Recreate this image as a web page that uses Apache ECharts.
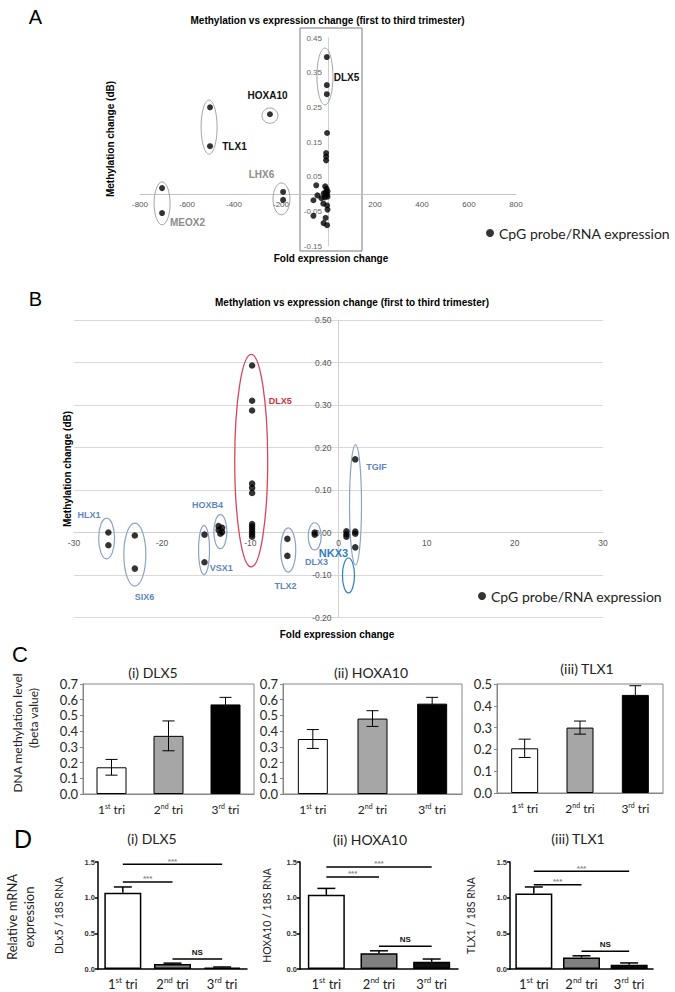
<!DOCTYPE html>
<html><head><meta charset="utf-8">
<script src="https://cdn.jsdelivr.net/npm/echarts@6/dist/echarts.min.js"></script>
<style>html,body{margin:0;padding:0;background:#fff}#c{width:675px;height:992px}</style>
</head><body><div id="c"></div>
<script>
// ---------- Panel A data (fold expression change, methylation change) ----------
const aMEOX2 = [[-706,0.017],[-706,-0.055]];
const aTLX1 = [[-502,0.25],[-502,0.138]];
const aHOXA10 = [[-247,0.23]];
const aLHX6 = [[-191,0.006],[-191,-0.017]];
const aDLX5 = [[-5,0.395],[-5,0.314],[-5,0.288]];
const aOther = [[-4,0.176],[-8,0.118],[-8,0.108],[-8,0.097],
  [-50,0.025],[-12,0.022],[-6,0.015],[-2,0.008],[-10,0.004],[-4,0.0],[-18,0.002],[-8,-0.004],[-2,-0.008],
  [-14,-0.01],[-45,-0.004],[-28,-0.012],[-62,-0.018],[-20,-0.028],[-4,-0.033],[-2,-0.045],
  [-62,-0.063],[-10,-0.069],[-19,-0.084],[-4,-0.09]];
const aEllipses = [[-706,-0.027,34,0.062],[-506,0.193,34,0.078],[-247,0.226,34,0.022],[-198,-0.014,36,0.046],[-13,0.339,34,0.082]];
const aGeneLabels = [['HOXA10',-257,0.285],['TLX1',-398,0.138],['DLX5',79,0.337],['LHX6',-283,0.055],['MEOX2',-598,-0.081]];
const aGrayGenes = ['LHX6','MEOX2'];
const aXRange = [-800, 800, 200];
const aYRange = [-0.15, 0.45, 0.1];

// ---------- Panel B data ----------
const bHLX1 = [[-26.1,0.0],[-26.1,-0.03]];
const bSIX6 = [[-23.1,-0.007],[-23.1,-0.085]];
const bVSX1 = [[-15.2,-0.005],[-15.2,-0.07]];
const bHOXB4 = [[-13.6,0.015],[-13.2,0.011],[-13.6,0.006],[-13.2,0.001],[-13.4,-0.003]];
const bDLX5 = [[-9.8,0.393],[-9.8,0.31],[-9.8,0.287],[-9.8,0.115],[-9.8,0.105],[-9.8,0.093],
  [-9.8,0.02],[-9.8,0.014],[-9.8,0.008],[-9.8,0.002],[-9.8,-0.004],[-9.8,-0.01]];
const bTLX2 = [[-5.8,-0.015],[-5.8,-0.055]];
const bDLX3 = [[-2.7,0.0],[-2.7,-0.005]];
const bNKX3 = [[0.9,0.003],[0.9,-0.004],[0.9,-0.01]];
const bTGIF = [[1.9,0.172],[1.9,0.002],[1.9,-0.003],[1.9,-0.035]];
const bEllipseGenes = ['HLX1','SIX6','VSX1','HOXB4','DLX5','TLX2','DLX3','TGIF','NKX3'];
const bEllipses = [[-26.3,-0.014,0.9,0.048],[-23.1,-0.052,1.25,0.074],[-15.25,-0.041,0.62,0.058],
  [-13.4,0.002,0.74,0.04],[-9.9,0.169,1.87,0.25],[-5.7,-0.041,0.85,0.052],[-2.7,-0.009,0.74,0.032],
  [1.93,0.065,0.68,0.141],[1.13,-0.101,0.68,0.041]];
const bGeneLabels = [['HLX1',-28.3,0.041],['SIX6',-22.0,-0.152],['HOXB4',-14.85,0.065],['VSX1',-13.3,-0.084],
  ['TLX2',-6.0,-0.126],['DLX3',-2.5,-0.069],['NKX3',-0.57,-0.048],['TGIF',4.3,0.154],['DLX5',-6.6,0.309]];
const bXRange = [-30, 30, 10];
const bYRange = [-0.2, 0.5, 0.1];

// ---------- Panel C data (DNA methylation beta value) ----------
const trimesters = ['1st tri','2nd tri','3rd tri'];
const cDLX5 = [0.17,0.37,0.57];      const cDLX5Err = [0.05,0.095,0.045];
const cHOXA10 = [0.35,0.48,0.575];   const cHOXA10Err = [0.06,0.05,0.04];
const cTLX1 = [0.205,0.30,0.45];     const cTLX1Err = [0.042,0.03,0.042];

// ---------- Panel D data (relative mRNA expression) ----------
const dDLX5 = [1.07,0.07,0.02];      const dDLX5Err = [0.08,0.012,0.008];
const dHOXA10 = [1.04,0.22,0.10];    const dHOXA10Err = [0.09,0.035,0.04];
const dTLX1 = [1.06,0.16,0.06];      const dTLX1Err = [0.09,0.025,0.025];
const dDLX5Sig = [[0,2,1.47,'***'],[0,1,1.22,'***'],[1,2,0.14,'NS']];
const dHOXA10Sig = [[0,2,1.43,'***'],[0,1,1.29,'***'],[1,2,0.32,'NS']];
const dTLX1Sig = [[0,2,1.37,'***'],[0,1,1.18,'***'],[1,2,0.25,'NS']];

// ---------- helpers ----------
const ARIAL = '"Liberation Sans", Arial, sans-serif';
const CAL = 'Lato, "Open Sans", sans-serif';
const LEG = 'CpG probe/RNA expression';

// offset (px) that moves an edge axis onto the other axis' zero
const zeroShift = (len, r) => -len * (0 - r[0]) / (r[1] - r[0]);

function ellipseRender(colorFn, lw){
  return function(params, api){
    const c = api.coord([api.value(0), api.value(1)]);
    const s = api.size([api.value(2), api.value(3)]);
    return {type:'ellipse', shape:{cx:c[0], cy:c[1], rx:Math.abs(s[0]), ry:Math.abs(s[1])},
      style:{fill:'none', stroke:colorFn(params.dataIndex), lineWidth:lw(params.dataIndex)}};
  };
}
function labelRender(arr, styleFn){
  return function(params, api){
    const p = api.coord([api.value(0), api.value(1)]);
    const st = styleFn(arr[params.dataIndex][0]);
    return {type:'text', x:p[0], y:p[1], style:{text:arr[params.dataIndex][0], fill:st.fill, font:st.font,
      align:'center', verticalAlign:'middle', textAlign:'center', textVerticalAlign:'middle'}};
  };
}
function errRender(capHalf, both){
  return function(params, api){
    const i = api.value(0), lo = api.value(1), hi = api.value(2);
    const a = api.coord([i, lo]), b = api.coord([i, hi]);
    const st = {stroke:'#000', lineWidth: both ? 1 : 1.5};
    const ch = [
      {type:'line', shape:{x1:a[0],y1:a[1],x2:b[0],y2:b[1]}, style:st},
      {type:'line', shape:{x1:b[0]-capHalf,y1:b[1],x2:b[0]+capHalf,y2:b[1]}, style:st}
    ];
    if (both) ch.push({type:'line', shape:{x1:a[0]-capHalf,y1:a[1],x2:a[0]+capHalf,y2:a[1]}, style:st});
    return {type:'group', children:ch};
  };
}
function sigRender(arr){
  return function(params, api){
    const s = arr[params.dataIndex];
    const p1 = api.coord([s[0], s[2]]), p2 = api.coord([s[1], s[2]]);
    const ns = s[3] === 'NS';
    return {type:'group', children:[
      {type:'line', shape:{x1:p1[0],y1:p1[1],x2:p2[0],y2:p2[1]}, style:{stroke:'#000', lineWidth:1.5}},
      {type:'text', x:(p1[0]+p2[0])/2, y:p1[1] - (ns ? 7 : 3), style:{text:s[3], fill: ns ? '#111' : '#8a8a8a',
        font:'bold 8px ' + ARIAL, align:'center', verticalAlign:'middle',
        textAlign:'center', textVerticalAlign:'middle'}}
    ]};
  };
}
function supFmt(v){
  const m = /^(\d)(st|nd|rd) (.+)$/.exec(v);
  return '{n|' + m[1] + '}{s|' + m[2] + '}{n| ' + m[3] + '}';
}
function supRich(fs){
  return {n:{fontSize:fs, fontFamily:CAL, color:'#222', lineHeight:fs+3},
          s:{fontSize:Math.round(fs*0.62), fontFamily:CAL, color:'#222', verticalAlign:'top', lineHeight:8}};
}

const bColor = g => g === 'DLX5' ? '#d6465a' : (g === 'NKX3' ? '#2f7dc0' : '#8aa3c6');
const bLabelColor = g => g === 'DLX5' ? '#d42e3a' : (g === 'NKX3' ? '#2f7dc0' : '#5f86bd');

const fills = ['#ffffff','#a6a6a6','#000000'];
const dFills = ['#ffffff','#808080','#111111'];

function cBar(idx, vals, err, bw){
  return [
    {type:'bar', xAxisIndex:idx, yAxisIndex:idx, barWidth:bw, silent:true,
     data: vals.map((v,i)=>({value:v, itemStyle:{color:fills[i]}})),
     itemStyle:{borderColor:'#000', borderWidth:1}},
    {type:'custom', xAxisIndex:idx, yAxisIndex:idx, silent:true, z:5, renderItem: errRender(6, true),
     data: vals.map((v,i)=>[i, v-err[i], v+err[i]])}
  ];
}
function dBar(idx, vals, err, sig){
  return [
    {type:'bar', xAxisIndex:idx, yAxisIndex:idx, barWidth:37, silent:true,
     data: vals.map((v,i)=>({value:v, itemStyle:{color:dFills[i]}})),
     itemStyle:{borderColor:'#000', borderWidth:1.5}},
    {type:'custom', xAxisIndex:idx, yAxisIndex:idx, silent:true, z:5, renderItem: errRender(9, false),
     data: vals.map((v,i)=>[i, v, v+err[i]])},
    {type:'custom', xAxisIndex:idx, yAxisIndex:idx, silent:true, z:5, renderItem: sigRender(sig),
     data: sig.map(s=>[s[0], s[2]])}
  ];
}

const cXAxis = gi => ({gridIndex:gi, type:'category', data:trimesters,
  axisLine:{lineStyle:{color:'#868686'}}, axisTick:{show:false},
  axisLabel:{formatter:supFmt, rich:supRich(12), margin:8, interval:0}});
const cYAxis = (gi, max) => ({gridIndex:gi, type:'value', min:0, max:max, interval:0.1,
  axisLine:{show:true, lineStyle:{color:'#868686'}}, axisTick:{show:true, length:3, lineStyle:{color:'#868686'}},
  splitLine:{show:false}, axisLabel:{formatter:v=>v.toFixed(1), fontFamily:CAL, fontSize:13, color:'#262626', margin:5}});
const dXAxis = gi => ({gridIndex:gi, type:'category', data:trimesters,
  axisLine:{lineStyle:{color:'#000', width:1.5}}, axisTick:{show:false},
  axisLabel:{formatter:supFmt, rich:supRich(13), margin:7, interval:0}});
const dYAxis = (gi, name, gap) => ({gridIndex:gi, type:'value', min:0, max:1.5, interval:0.5,
  axisLine:{show:true, lineStyle:{color:'#000', width:1.5}}, axisTick:{show:true, length:3, lineStyle:{color:'#000', width:1.5}},
  splitLine:{show:false}, axisLabel:{formatter:v=>v.toFixed(1), fontFamily:ARIAL, fontSize:7.5, fontWeight:'bold', color:'#333', margin:3},
  name:name, nameLocation:'middle', nameGap:gap, nameRotate:90, nameTextStyle:{fontFamily:CAL, fontSize:10.5, color:'#222'}});

const txt = (t, x, y, font, fill, rot) => ({type:'text', x:x, y:y, rotation: rot || 0, silent:true,
  style:{text:t, font:font, fill:fill || '#000', align:'center', verticalAlign:'middle', textAlign:'center', textVerticalAlign:'middle'}});

const GB = {outerBoundsMode:'none', containLabel:false};
const gA = {left:140, top:38, width:376, height:208};
const gB = {left:74, top:320, width:529, height:297.5};
const chart = echarts.init(document.getElementById('c'), null, {renderer:'svg', width:675, height:992});
chart.setOption({
  animation:false,
  backgroundColor:'#fff',
  grid:[
    Object.assign({}, gA, GB),
    Object.assign({}, gB, GB),
    Object.assign({left:83, top:684, width:171, height:110, show:true, borderColor:'#868686', borderWidth:1}, GB),
    Object.assign({left:283, top:684, width:179, height:110, show:true, borderColor:'#868686', borderWidth:1}, GB),
    Object.assign({left:497, top:684, width:166, height:109, show:true, borderColor:'#868686', borderWidth:1}, GB),
    Object.assign({left:98, top:862, width:149, height:107}, GB),
    Object.assign({left:300, top:862, width:158, height:107}, GB),
    Object.assign({left:510, top:862, width:143, height:107}, GB)
  ],
  xAxis:[
    {gridIndex:0, type:'value', min:aXRange[0], max:aXRange[1], interval:aXRange[2], position:'bottom',
     offset: zeroShift(gA.height, aYRange),
     axisLine:{onZero:false, lineStyle:{color:'#c4c4c4'}},
     axisTick:{show:false}, splitLine:{show:false},
     axisLabel:{fontSize:8, color:'#555', fontFamily:ARIAL, margin:6, formatter:v=> v===0 ? '' : String(v)}},
    {gridIndex:1, type:'value', min:bXRange[0], max:bXRange[1], interval:bXRange[2], position:'bottom',
     offset: zeroShift(gB.height, bYRange),
     axisLine:{onZero:false, lineStyle:{color:'#d0d0d0'}},
     axisTick:{show:false}, splitLine:{show:false},
     axisLabel:{fontSize:8.5, color:'#555', fontFamily:ARIAL, margin:6}},
    cXAxis(2), cXAxis(3), cXAxis(4), dXAxis(5), dXAxis(6), dXAxis(7)
  ],
  yAxis:[
    {gridIndex:0, type:'value', min:aYRange[0], max:aYRange[1], interval:aYRange[2], position:'left',
     offset: zeroShift(gA.width, aXRange),
     axisLine:{onZero:false, lineStyle:{color:'#cfcfcf'}},
     axisTick:{show:false}, splitLine:{show:false},
     axisLabel:{fontSize:8, color:'#666', fontFamily:ARIAL, margin:6, formatter:v=>v.toFixed(2)}},
    {gridIndex:1, type:'value', min:bYRange[0], max:bYRange[1], interval:bYRange[2], position:'left',
     offset: zeroShift(gB.width, bXRange),
     axisLine:{onZero:false, lineStyle:{color:'#d0d0d0'}},
     axisTick:{show:false}, splitLine:{show:true, lineStyle:{color:'#d9d9d9'}},
     axisLabel:{fontSize:8.5, color:'#555', fontFamily:ARIAL, margin:7, formatter:v=>v.toFixed(2)}},
    cYAxis(2, 0.7), cYAxis(3, 0.7), cYAxis(4, 0.5),
    dYAxis(5, 'DLx5 / 18S RNA', 34), dYAxis(6, 'HOXA10 / 18S RNA', 28), dYAxis(7, 'TLX1 / 18S RNA', 34)
  ],
  legend:[
    {data:[LEG], left:481, top:221, icon:'circle', itemWidth:8, itemHeight:8, selectedMode:false,
     textStyle:{fontFamily:CAL, fontSize:14, color:'#222'}},
    {data:[LEG], left:473, top:584, icon:'circle', itemWidth:8, itemHeight:8, selectedMode:false,
     textStyle:{fontFamily:CAL, fontSize:14, color:'#222'}}
  ],
  graphic:[
    {type:'rect', shape:{x:300, y:28, width:62, height:223}, style:{fill:'none', stroke:'#7a7a7a', lineWidth:1}, silent:true, z:-1},
    txt('A', 35.5, 17, '20px ' + ARIAL),
    txt('B', 35.5, 298.5, '20px ' + ARIAL),
    txt('C', 20, 654.5, '22px ' + ARIAL),
    txt('D', 23, 839, '25px ' + ARIAL),
    txt('Methylation vs expression change (first to third trimester)', 327.5, 20, 'bold 10px ' + ARIAL),
    txt('Methylation vs expression change (first to third trimester)', 352, 302, 'bold 10px ' + ARIAL),
    txt('Methylation change (dB)', 110, 139, 'bold 10px ' + ARIAL, '#000', Math.PI/2),
    txt('Fold expression change', 331, 258, 'bold 10px ' + ARIAL),
    txt('Methylation change (dB)', 67, 469, 'bold 10px ' + ARIAL, '#000', Math.PI/2),
    txt('Fold expression change', 337, 634, 'bold 10px ' + ARIAL),
    txt('(i) DLX5', 153, 672, '14px ' + CAL, '#222'),
    txt('(ii) HOXA10', 371, 672, '14px ' + CAL, '#222'),
    txt('(iii) TLX1', 587, 668, '14px ' + CAL, '#222'),
    txt('DNA methylation level', 17, 733, '12px ' + CAL, '#222', Math.PI/2),
    txt('(beta value)', 33, 718, '12px ' + CAL, '#222', Math.PI/2),
    txt('(i) DLX5', 152, 838, '14px ' + CAL, '#222'),
    txt('(ii) HOXA10', 370, 839, '14px ' + CAL, '#222'),
    txt('(iii) TLX1', 578, 838, '14px ' + CAL, '#222'),
    txt('Relative mRNA', 12, 917, '13px ' + CAL, '#222', Math.PI/2),
    txt('expression', 29, 917, '13px ' + CAL, '#222', Math.PI/2)
  ],
  series:[
    {name:LEG, type:'scatter', xAxisIndex:0, yAxisIndex:0, symbolSize:6, itemStyle:{color:'#000'}, silent:true,
     data:[].concat(aMEOX2, aTLX1, aHOXA10, aLHX6, aDLX5, aOther)},
    {type:'custom', xAxisIndex:0, yAxisIndex:0, silent:true, z:1,
     renderItem: ellipseRender(()=>'#a3a3a3', ()=>1), data:aEllipses},
    {type:'custom', xAxisIndex:0, yAxisIndex:0, silent:true, z:3,
     renderItem: labelRender(aGeneLabels, g => ({fill: aGrayGenes.includes(g) ? '#8c8c8c' : '#111', font:'bold 10px ' + ARIAL})),
     data: aGeneLabels.map(l=>[l[1], l[2]])},
    {name:LEG, type:'scatter', xAxisIndex:1, yAxisIndex:1, symbolSize:6.5, itemStyle:{color:'#000'}, silent:true,
     data:[].concat(bHLX1, bSIX6, bVSX1, bHOXB4, bDLX5, bTLX2, bDLX3, bNKX3, bTGIF)},
    {type:'custom', xAxisIndex:1, yAxisIndex:1, silent:true, z:1,
     renderItem: ellipseRender(i=>bColor(bEllipseGenes[i]), i=> bEllipseGenes[i]==='DLX5' ? 1.3 : 1.2), data:bEllipses},
    {type:'custom', xAxisIndex:1, yAxisIndex:1, silent:true, z:3,
     renderItem: labelRender(bGeneLabels, g => ({fill: bLabelColor(g), font: g==='NKX3' ? 'bold 11px ' + ARIAL : 'bold 9px ' + ARIAL})),
     data: bGeneLabels.map(l=>[l[1], l[2]])}
  ].concat(
    cBar(2, cDLX5, cDLX5Err, 30), cBar(3, cHOXA10, cHOXA10Err, 30), cBar(4, cTLX1, cTLX1Err, 27),
    dBar(5, dDLX5, dDLX5Err, dDLX5Sig), dBar(6, dHOXA10, dHOXA10Err, dHOXA10Sig), dBar(7, dTLX1, dTLX1Err, dTLX1Sig)
  )
});
</script>
</body></html>
